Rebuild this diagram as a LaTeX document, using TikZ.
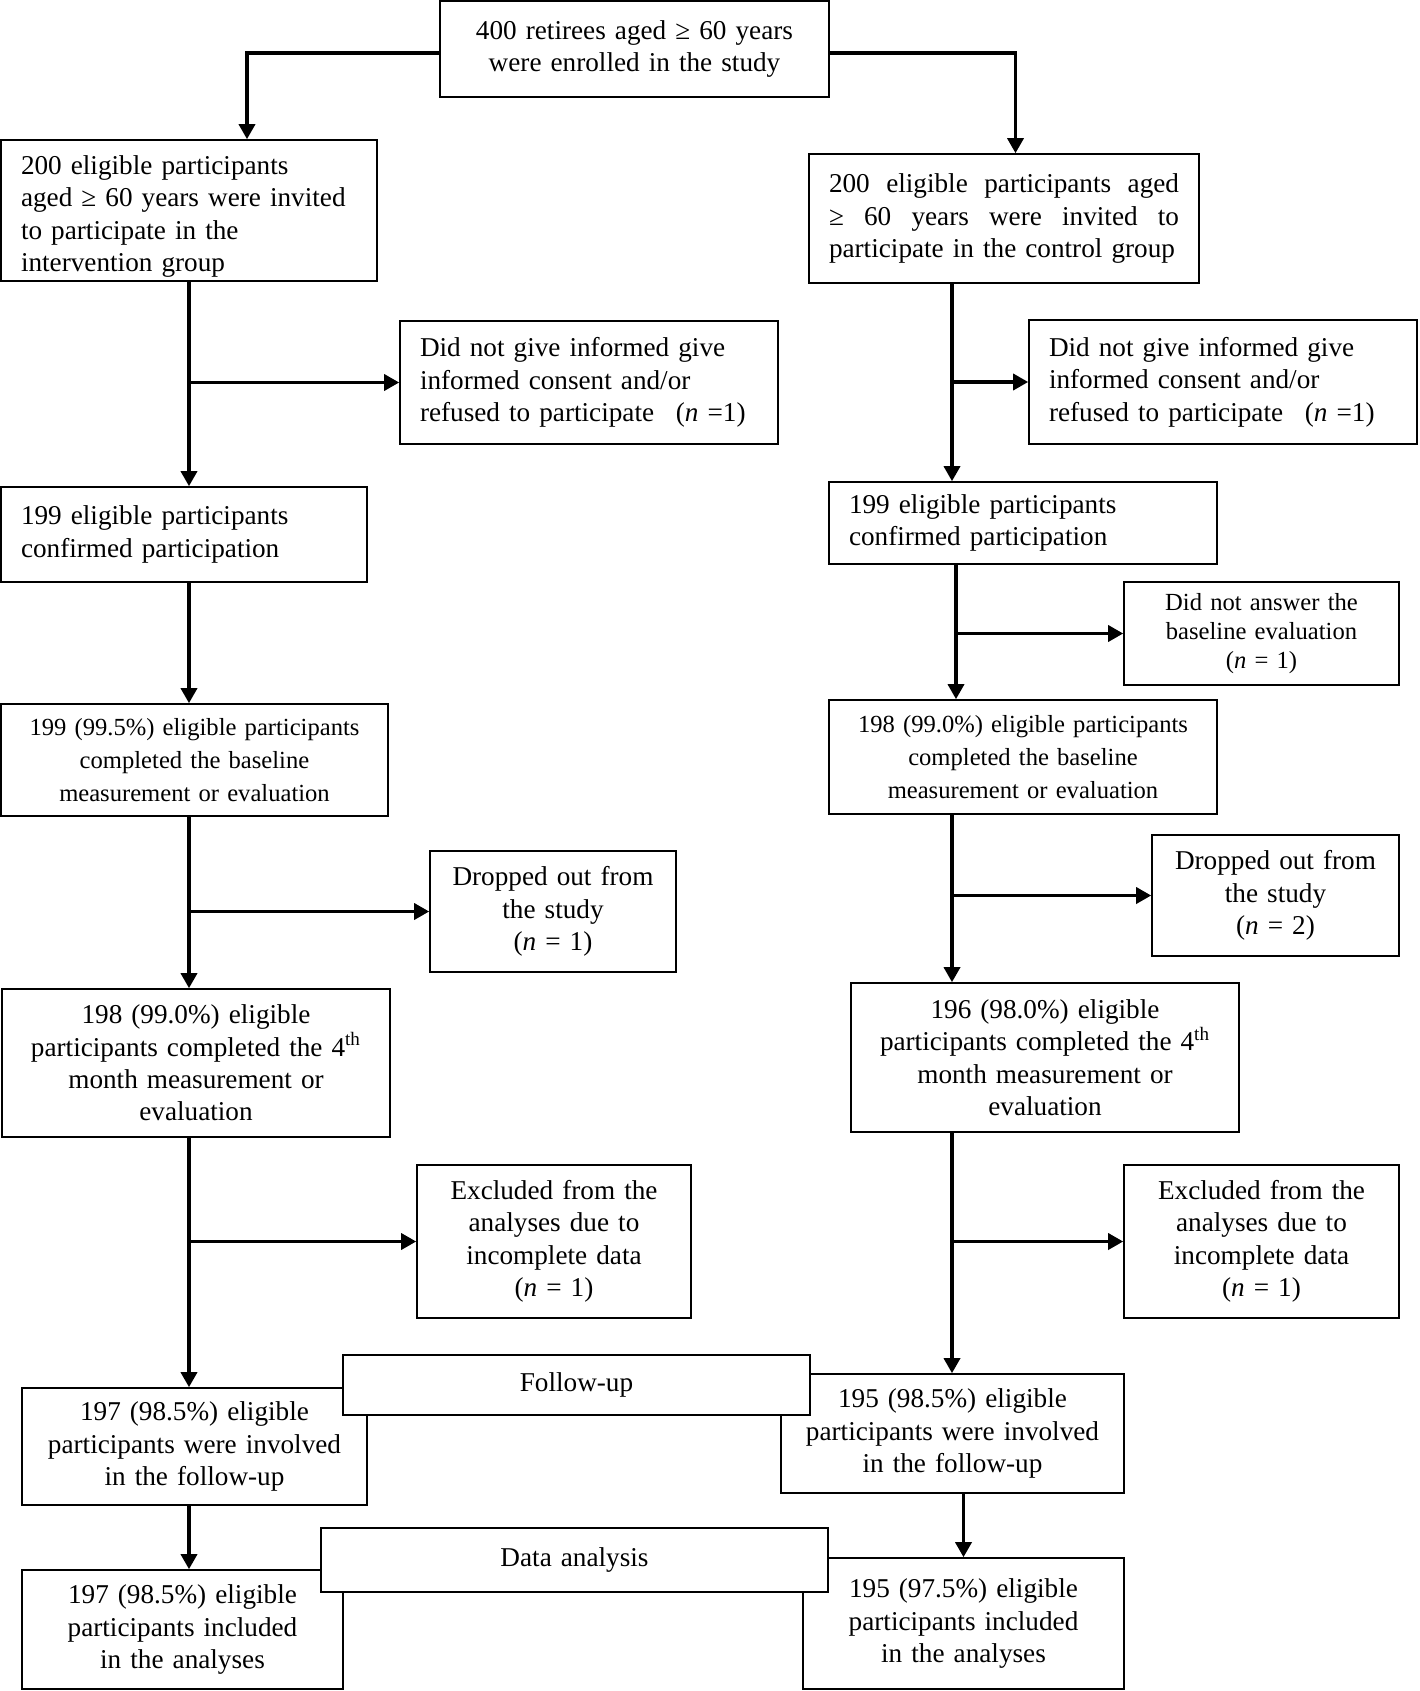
\documentclass[tikz,border=0pt]{standalone}
\usepackage{fontspec}
\setmainfont{Liberation Serif}
\usetikzlibrary{arrows.meta,positioning,calc}
\newcommand{\nval}[1]{(\textit{n} = #1)}

\begin{document}
\begin{tikzpicture}[x=0.5pt, y=-0.5pt,
  blk/.style={draw, line width=0.8pt, fill=white, inner xsep=4pt, inner ysep=0pt, align=center, font=\fontsize{13.6}{16.2}\selectfont},
  lft/.style={inner xsep=10pt, align=left},
  sm/.style={font=\fontsize{12.3}{16.5}\selectfont},
  arr/.style={line width=1.7pt, -{Triangle[length=7.5pt,width=8pt]}}]
\useasboundingbox (0,0) rectangle (1419,1691);

\node[blk, text width=186.5pt, minimum height=48pt] (top) at (634.5,49) {400 retirees aged ≥ 60 years\\were enrolled in the study};

% intervention group (left)
\node[blk, lft, text width=168pt, minimum height=70.5pt] (L1) at (189,210.5) {\rule{0pt}{15.5pt}200 eligible participants\\aged ≥ 60 years were invited\\to participate in the\\intervention group};
\node[blk, lft, text width=169pt, minimum height=61.5pt] (SL1) at (589,382.5) {Did not give informed give\\informed consent and/or\\refused to participate\hspace{0.8em}(\textit{n} =1)};
\node[blk, lft, text width=163pt, minimum height=47.5pt] (L2) at (184,534.5) {199 eligible participants\\confirmed participation};
\node[blk, sm, text width=185.5pt, minimum height=56pt] (L3) at (194.5,760) {199 (99.5\%) eligible participants\\completed the baseline\\measurement or evaluation};
\node[blk, text width=115pt, minimum height=60.5pt] (SL3) at (553,911.5) {Dropped out from\\the study\\\nval{1}};
\node[blk, text width=186pt, minimum height=74pt] (L4) at (196,1063) {198 (99.0\%) eligible\\participants completed the 4\textsuperscript{th}\\month measurement or\\evaluation};
\node[blk, text width=129pt, minimum height=76.5pt] (SL4) at (554,1241.5) {Excluded from the\\analyses due to\\incomplete data\\\nval{1}};
\node[blk, text width=164.5pt, minimum height=58.5pt] (L5) at (194.5,1446.5) {197 (98.5\%) eligible\\participants were involved\\in the follow-up};
\node[blk, text width=152.5pt, minimum height=59.5pt] (L6) at (182.5,1629.5) {197 (98.5\%) eligible\\participants included\\in the analyses};

% control group (right)
\node[blk, lft, text width=175pt, minimum height=64.5pt] (R1) at (1004,218.5) {200\hfill eligible\hfill participants\hfill aged\\≥\hfill 60\hfill years\hfill were\hfill invited\hfill to\\participate in the control group};
\node[blk, lft, text width=174pt, minimum height=62pt] (SR1) at (1223,382) {Did not give informed give\\informed consent and/or\\refused to participate\hspace{0.8em}(\textit{n} =1)};
\node[blk, lft, text width=174pt, minimum height=41pt] (R2) at (1023,523) {199 eligible participants\\confirmed participation};
\node[blk, text width=129.5pt, minimum height=51.5pt, font=\fontsize{12.3}{14.3}\selectfont] (SR2) at (1261.5,633.5) {Did not answer the\\baseline evaluation\\\nval{1}};
\node[blk, sm, text width=186pt, minimum height=57pt] (R3) at (1023,757) {198 (99.0\%) eligible participants\\completed the baseline\\measurement or evaluation};
\node[blk, text width=115.5pt, minimum height=60.5pt] (SR3) at (1275.5,895.5) {Dropped out from\\the study\\\nval{2}};
\node[blk, text width=186pt, minimum height=74.5pt] (R4) at (1045,1057.5) {196 (98.0\%) eligible\\participants completed the 4\textsuperscript{th}\\month measurement or\\evaluation};
\node[blk, text width=129.5pt, minimum height=76.5pt] (SR4) at (1261.5,1241.5) {Excluded from the\\analyses due to\\incomplete data\\\nval{1}};
\node[blk, text width=163.5pt, minimum height=59.5pt] (R5) at (952.5,1433.5) {195 (98.5\%) eligible\\participants were involved\\in the follow-up};
\node[blk, text width=152.5pt, minimum height=65.5pt] (R6) at (963.5,1623.5) {195 (97.5\%) eligible\\participants included\\in the analyses};

% stage labels on top
\node[blk, text width=225.5pt, minimum height=30pt] (fu) at (576.5,1385) {Follow-up};
\node[blk, text width=245.5pt, minimum height=32pt] (da) at (574.5,1560) {Data analysis};

\draw[arr] ([yshift=-2pt]top.west) -| ([xshift=29pt]L1.north);
\draw[arr] ([yshift=-2pt]top.east) -| ([xshift=5.75pt]R1.north);

\coordinate (lx) at (L1.south);
\draw[arr] (lx) -- (lx |- L2.north);
\draw[arr] (lx |- SL1.west) -- (SL1.west);
\draw[arr] (lx |- L2.south) -- (lx |- L3.north);
\draw[arr] (lx |- L3.south) -- (lx |- L4.north);
\draw[arr] (lx |- SL3.west) -- (SL3.west);
\draw[arr] (lx |- L4.south) -- (lx |- L5.north);
\draw[arr] (lx |- SL4.west) -- (SL4.west);
\draw[arr] (lx |- L5.south) -- (lx |- L6.north);

\coordinate (rx) at ([xshift=-26pt]R1.south);
\draw[arr] (rx) -- (rx |- R2.north);
\draw[arr] (rx |- SR1.west) -- (SR1.west);
\draw[arr] ([xshift=2pt]rx |- R2.south) -- ([xshift=2pt]rx |- R3.north);
\draw[arr] ([xshift=2pt]rx |- SR2.west) -- (SR2.west);
\draw[arr] (rx |- R3.south) -- (rx |- R4.north);
\draw[arr] (rx |- SR3.west) -- (SR3.west);
\draw[arr] (rx |- R4.south) -- (rx |- R5.north);
\draw[arr] (rx |- SR4.west) -- (SR4.west);
\draw[arr] (R6.north |- R5.south) -- (R6.north);
\end{tikzpicture}
\end{document}
